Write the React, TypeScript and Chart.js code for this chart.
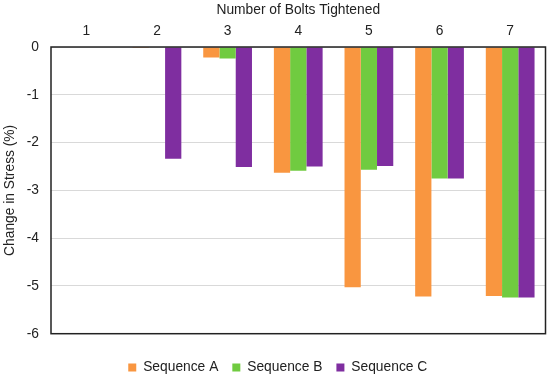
import React, { useEffect, useRef } from "react";
import { Chart, registerables } from "chart.js";

Chart.register(...registerables);

const categories = ["1", "2", "3", "4", "5", "6", "7"];
const seqA = [0, -0.02, -0.22, -2.63, -5.03, -5.22, -5.21];
const seqB = [0, -0.01, -0.24, -2.59, -2.57, -2.75, -5.24];
const seqC = [0, -2.34, -2.51, -2.5, -2.49, -2.75, -5.24];
const seriesNames = ["Sequence A", "Sequence B", "Sequence C"];
const seriesColors = ["#F99640", "#70CB40", "#7F2EA0"];

const FONT = "'Liberation Sans', Arial, sans-serif";
const FS = 13.8;

const framePlugin = {
  id: "frame",
  afterLayout(chart: any) {
    const lg = chart.legend;
    if (lg) {
      lg.top += 13;
      lg.bottom += 13;
      lg.left += 5;
      lg.right += 5;
    }
  },
  afterDatasetsDraw(chart: any) {
    const { ctx, chartArea } = chart;
    const { left, top, right, bottom } = chartArea;
    ctx.save();
    ctx.strokeStyle = "#222";
    ctx.lineWidth = 1.5;
    ctx.strokeRect(left, top, right - left, bottom - top);
    ctx.restore();
  },
};

export default function App() {
  const ref = useRef<HTMLCanvasElement | null>(null);
  useEffect(() => {
    document.body.style.margin = "0";
    const data = [seqA, seqB, seqC];
    const chart = new Chart(ref.current as HTMLCanvasElement, {
      type: "bar",
      data: {
        labels: categories,
        datasets: data.map((d, i) => ({
          label: seriesNames[i],
          data: d,
          backgroundColor: seriesColors[i],
          borderWidth: 0,
          barPercentage: 1,
          categoryPercentage: 0.69,
        })),
      },
      options: {
        animation: false,
        responsive: false,
        maintainAspectRatio: false,
        layout: { padding: { left: 0, right: 4.5, top: 0, bottom: 4.5 } },
        plugins: {
          legend: {
            position: "bottom",
            labels: {
              boxWidth: 8,
              boxHeight: 8,
              padding: 14,
              color: "#222",
              font: { family: FONT, size: FS },
            },
          },
          tooltip: { enabled: false },
        },
        scales: {
          x: {
            position: "top",
            grid: { display: false, drawTicks: false },
            border: { display: false },
            ticks: { color: "#222", padding: 8, font: { family: FONT, size: FS } },
            title: {
              display: true,
              text: "Number of Bolts Tightened",
              color: "#222",
              font: { family: FONT, size: FS },
              padding: { top: 2, bottom: 2 },
            },
            afterFit: (s: any) => {
              s.height = 47;
            },
          },
          y: {
            min: -6,
            max: 0,
            ticks: { stepSize: 1, color: "#222", padding: 12, font: { family: FONT, size: FS } },
            grid: { color: "#d9d9d9", lineWidth: 1, drawTicks: false },
            border: { display: false },
            title: {
              display: true,
              text: "Change in Stress (%)",
              color: "#222",
              font: { family: FONT, size: FS },
              padding: { top: 2, bottom: 2 },
            },
            afterFit: (s: any) => {
              s.width = 51;
            },
          },
        },
      },
      plugins: [framePlugin],
    } as any);
    return () => chart.destroy();
  }, []);
  return (
    <div style={{ width: 550, height: 376 }}>
      <canvas ref={ref} width={550} height={376} />
    </div>
  );
}
